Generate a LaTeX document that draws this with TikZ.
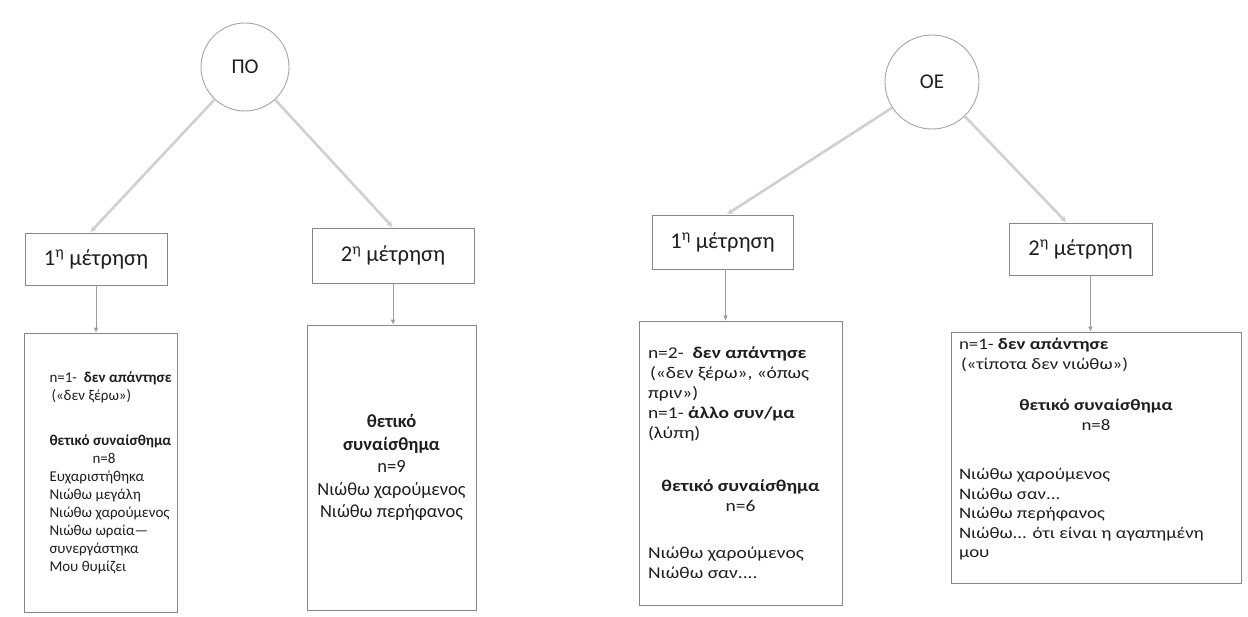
\documentclass[tikz,border=0pt]{standalone}
\usepackage{fontspec}
\setmainfont{Carlito}
\newfontfamily\widefont{Carlito}[FakeStretch=1.18]
\usetikzlibrary{arrows.meta,calc}
\definecolor{boxgray}{RGB}{135,135,135}
\definecolor{circgray}{RGB}{165,165,165}
\definecolor{linkgray}{RGB}{208,208,208}
\definecolor{txt}{RGB}{30,30,30}
\begin{document}
\begin{tikzpicture}[x=1pt,y=-1pt,
  circ/.style={circle, draw=circgray, line width=0.9pt, inner sep=0pt, font=\fontsize{21}{24}\selectfont, text=txt},
  hbox/.style={draw=boxgray, line width=0.9pt, inner sep=0pt, font=\fontsize{22.5}{26}\selectfont, text=txt},
  cbox/.style={draw=boxgray, line width=0.9pt, inner sep=0pt, text=txt},
  link/.style={draw=linkgray, line width=2.6pt, -{Latex[length=6pt,width=6pt]}},
  vlink/.style={draw=linkgray!75!black, line width=1pt, -{Latex[length=5pt,width=5pt]}}
]
\useasboundingbox[fill=white] (0,0) rectangle (1248,617);

% circles
\node[circ, minimum size=88pt] (po) at (245,67) {ΠΟ};
\node[circ, minimum size=94pt] (oe) at (932,82) {ΟΕ};

% measurement boxes
\node[hbox, minimum width=142pt, minimum height=52pt] (b1) at (96,259) {1\textsuperscript{η} μέτρηση};
\node[hbox, minimum width=162pt, minimum height=55pt] (b2) at (393,255.5) {2\textsuperscript{η} μέτρηση};
\node[hbox, minimum width=141pt, minimum height=54pt] (b3) at (722.5,242) {1\textsuperscript{η} μέτρηση};
\node[hbox, minimum width=143pt, minimum height=52pt] (b4) at (1080.5,249) {2\textsuperscript{η} μέτρηση};

% content boxes
\node[cbox, minimum width=153pt, minimum height=279pt] (c1) at (100.5,472.5) {%
\fontsize{15}{18}\selectfont
\hspace*{21pt}\begin{minipage}{123pt}\raggedright
n=1-\ \ \textbf{δεν απάντησε}\\
\hspace*{2pt}(«δεν ξέρω»)\par\vspace{27pt}
\textbf{θετικό συναίσθημα}\par
\hspace*{43pt}n=8\\
Ευχαριστήθηκα\\
Νιώθω μεγάλη\\
Νιώθω χαρούμενος\\
Νιώθω ωραία—\\
συνεργάστηκα\\
Μου θυμίζει
\end{minipage}};

\node[cbox, minimum width=169pt, minimum height=285pt] (c2) at (391.5,467.5) {%
\fontsize{18.5}{22.5}\selectfont
\begin{minipage}{165pt}\centering
\textbf{θετικό}\\
\textbf{συναίσθημα}\\
n=9\\
Νιώθω χαρούμενος\\
Νιώθω περήφανος
\end{minipage}};

\node[cbox, minimum width=203pt, minimum height=284pt] (c3) at (740.5,463) {%
\widefont\fontsize{16.5}{20}\selectfont
\begin{minipage}{185pt}\raggedright
n=2-\ \ \textbf{δεν απάντησε}\\
\hspace*{2pt}(«δεν ξέρω», «όπως\\
πριν»)\\
n=1- \textbf{άλλο συν/μα}\\
(λύπη)\par\vspace{33pt}
{\centering\textbf{θετικό συναίσθημα}\\ n=6\par}\vspace{27pt}
Νιώθω χαρούμενος\\
Νιώθω σαν....
\end{minipage}};

\node[cbox, minimum width=290pt, minimum height=251pt] (c4) at (1096,457.5) {%
\widefont\fontsize{16}{19.5}\selectfont
\begin{minipage}{274pt}\raggedright
n=1- \textbf{δεν απάντησε}\\
\hspace*{2pt}(«τίποτα δεν νιώθω»)\par\vspace{22pt}
{\centering\textbf{θετικό συναίσθημα}\\ n=8\par}\vspace{30pt}
Νιώθω χαρούμενος\\
Νιώθω σαν...\\
Νιώθω περήφανος\\
Νιώθω... ότι είναι η αγαπημένη\\
μου\par\vspace{16pt}
\end{minipage}};

% connectors
\draw[link] (po) -- ($(b1.north)+(-6,0)$);
\draw[link] (po) -- (b2.north);
\draw[link] (oe) -- ($(b3.north)+(4,0)$);
\draw[link] (oe) -- ($(b4.north)+(-14,0)$);

\draw[vlink] (b1.south) -- (b1.south |- c1.north);
\draw[vlink] (b2.south) -- (b2.south |- c2.north);
\draw[vlink] ($(b3.south)+(3,0)$) -- ($(b3.south |- c3.north)+(3,0)$);
\draw[vlink] ($(b4.south)+(10,0)$) -- ($(b4.south |- c4.north)+(10,0)$);
\end{tikzpicture}
\end{document}
